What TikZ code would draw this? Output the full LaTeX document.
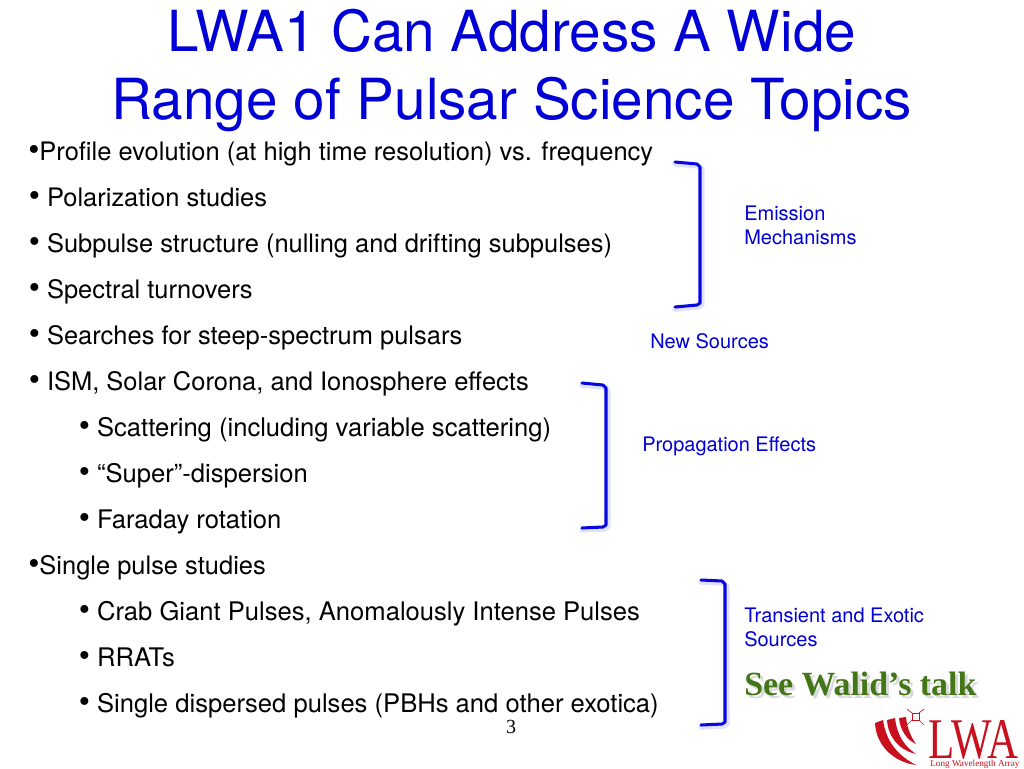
\documentclass[tikz,border=0pt]{standalone}
\usepackage{fontspec}
\setmainfont{TeX Gyre Heros}
\newfontfamily\serifface{Liberation Serif}
\definecolor{slideblue}{RGB}{0,0,214}
\definecolor{bracketblue}{RGB}{8,8,220}
\definecolor{talkgreen}{RGB}{66,118,22}
\definecolor{lwared}{RGB}{200,16,30}
\newcommand{\itemdot}{{\fontsize{24}{24}\selectfont •}}
\tikzset{
  titleline/.style={anchor=base,inner sep=0pt,text=slideblue,font=\fontsize{42.5}{48}\selectfont},
  item/.style={anchor=base west,inner sep=0pt,font=\fontsize{19.1}{22}\selectfont},
  subitem/.style={item,font=\fontsize{19.2}{22}\selectfont},
  topic/.style={anchor=base west,inner sep=0pt,align=left,text=slideblue,font=\fontsize{15}{18}\selectfont},
  talk/.style={anchor=base west,inner sep=0pt,font=\serifface\bfseries\fontsize{25.4}{28}\selectfont},
  bracket/.style={bracketblue,line width=2.3pt,line cap=round,line join=round},
  bracketglow/.style={blue!12,line width=4pt,line cap=round,line join=round},
  wave/.style={lwared,line cap=butt}
}
\begin{document}
\begin{tikzpicture}[x=.75pt,y=-.75pt]
\useasboundingbox (0,0) rectangle (1024,768);
\node [titleline] (titleA) at (512,51.7) {LWA1 Can Address A Wide};
\node [titleline] (titleB) at (512,119.7) {Range of Pulsar Science Topics};
\node [item] (profile) at (28,160) {\itemdot Profile evolution (at high time resolution) vs. frequency};
\node [item] (polar) at (28.5,206) {\itemdot\ Polarization studies};
\node [item] (subpulse) at (28.5,252) {\itemdot\ Subpulse structure (nulling and drifting subpulses)};
\node [item] (turnover) at (28.5,298) {\itemdot\ Spectral turnovers};
\node [item] (search) at (28.5,344) {\itemdot\ Searches for steep-spectrum pulsars};
\node [item] (ism) at (28.5,390) {\itemdot\ ISM, Solar Corona, and Ionosphere effects};
\node [subitem] (scatter) at (78.5,436) {\itemdot\ Scattering (including variable scattering)};
\node [subitem] (super) at (78.5,482) {\itemdot\ “Super”-dispersion};
\node [subitem] (faraday) at (78.5,528) {\itemdot\ Faraday rotation};
\node [item] (single) at (28,574) {\itemdot Single pulse studies};
\node [subitem] (crab) at (78.5,620) {\itemdot\ Crab Giant Pulses, Anomalously Intense Pulses};
\node [subitem] (rrat) at (78.5,666) {\itemdot\ RRATs};
\node [subitem] (dispersed) at (78.5,712) {\itemdot\ Single dispersed pulses (PBHs and other exotica)};
\node [anchor=base,inner sep=0pt,font=\serifface\fontsize{15}{18}\selectfont] (pagenum) at (511,733) {3};
% brackets
\draw [bracketglow] (675,164) -- (698,166) -- (702,169) -- (702,305) -- (698,307) -- (675,309);
\draw [bracket] (675,162) -- (697,164) -- (700,167) -- (700,303) -- (697,305) -- (675,307);
\draw [bracketglow] (582,385) -- (604,387) -- (608,390) -- (608,527) -- (604,529) -- (582,530);
\draw [bracket] (582,383) -- (603,385) -- (606,388) -- (606,525) -- (603,527) -- (582,528);
\draw [bracketglow] (701,582) -- (723,583) -- (727,586) -- (727,724) -- (723,726) -- (701,727);
\draw [bracket] (701,580) -- (722,581) -- (725,584) -- (725,722) -- (722,724) -- (701,725);
\node [topic] (emission) at (744,244.5) {Emission\\Mechanisms};
\node [topic] (newsrc) at (650,348.5) {New Sources};
\node [topic] (propag) at (642,451) {Propagation Effects};
\node [topic] (transient) at (744,646) {Transient and Exotic\\Sources};
\node [talk,text=black!50,opacity=.3] (walidshade) at (747,698) {See Walid’s talk};
\node [talk,text=talkgreen] (walid) at (744,695) {See Walid’s talk};
% logo
\fill [wave] (875,723) .. controls (876,745) and (893,762) .. (916,765) .. controls (897,755) and (886,741) .. (883,720) -- cycle;
\fill [wave] (887,720) .. controls (888,737) and (899,750) .. (916,754) .. controls (904,746) and (897,735) .. (895,718) -- cycle;
\fill [wave] (899,718) .. controls (900,730) and (907,740) .. (916,744) .. controls (911,737) and (907,728) .. (906,717) -- cycle;
\draw [lwared,line width=.7pt] (912,713) rectangle (919,720);
\draw [lwared,line width=.5pt] (912,713) -- (907,709) (919,713) -- (924,709) (912,720) -- (907,725) (919,720) -- (924,725);
\node [anchor=base west,inner sep=0pt,text=lwared,yscale=1.34,font=\serifface\fontsize{32.2}{33}\selectfont] (lwaword) at (928,758) {LWA};
\node [anchor=base west,inner sep=0pt,text=lwared,font=\serifface\fontsize{6.9}{8}\selectfont] (lwaname) at (930,766) {Long Wavelength Array};
\end{tikzpicture}
\end{document}
